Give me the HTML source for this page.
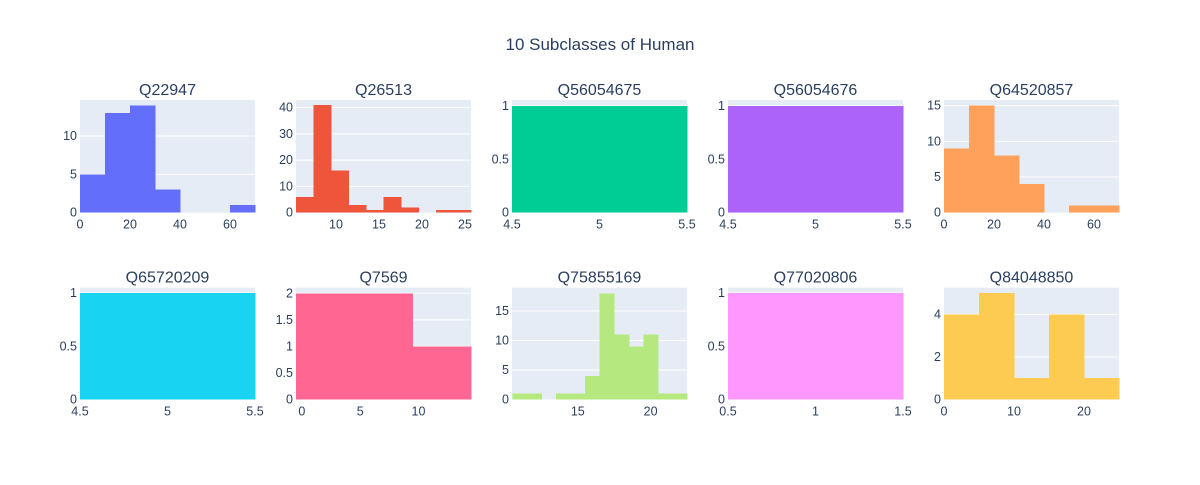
<!DOCTYPE html>
<html><head><meta charset="utf-8">
<style>
body{margin:0;background:#fff;}
svg text{font-family:"Liberation Sans",Arial,sans-serif;fill:#2a3f5f;}
</style></head>
<body>
<svg id="chart" width="1200" height="480" xmlns="http://www.w3.org/2000/svg">
<rect width="1200" height="480" fill="#fff"/>
<text x="600" y="50" text-anchor="middle" font-size="17">10 Subclasses of Human</text>
</svg>
<script>
const titles = ["Q22947","Q26513","Q56054675","Q56054676","Q64520857","Q65720209","Q7569","Q75855169","Q77020806","Q84048850"];
const colors = ["#636efa","#EF553B","#00cc96","#ab63fa","#FFA15A","#19d3f3","#FF6692","#B6E880","#FF97FF","#FECB52"];
const binStarts = [0,5.35,4.5,4.5,0,4.5,-0.5,10.5,0.5,0];
const binSizes = [10,2.035,1,1,10,1,5,1,1,5];
const counts = [
 [5,13,14,3,0,0,1],
 [6,41,16,3,1,6,2,0,1,1],
 [1],[1],
 [9,15,8,4,0,1,1],
 [1],
 [2,2,1],
 [1,1,0,1,1,4,18,11,9,11,1,1],
 [1],
 [4,5,1,4,1]
];
const xRanges = [[0,70],[5.35,25.7],[4.5,5.5],[4.5,5.5],[0,70],[4.5,5.5],[-0.5,14.5],[10.48,22.5],[0.5,1.5],[0,25]];
const yMax = [14.7,42.9,1.055,1.055,15.8,1.05,2.105,18.95,1.05,5.26];
const xTicks = [[0,20,40,60],[10,15,20,25],[4.5,5,5.5],[4.5,5,5.5],[0,20,40,60],[4.5,5,5.5],[0,5,10],[15,20],[0.5,1,1.5],[0,10,20]];
const yTicks = [[0,5,10],[0,10,20,30,40],[0,0.5,1],[0,0.5,1],[0,5,10,15],[0,0.5,1],[0,0.5,1,1.5,2],[0,5,10,15],[0,0.5,1],[0,2,4]];

const NS="http://www.w3.org/2000/svg";
const svg=document.getElementById('chart');
const colX=[80,296,512,728,944], W=175;
const rowY=[[100,212.7],[287.7,399.5]];
function mk(tag,attrs,parent){const e=document.createElementNS(NS,tag);for(const k in attrs)e.setAttribute(k,attrs[k]);parent.appendChild(e);return e;}
titles.forEach((t,i)=>{
  const c=i%5,r=Math.floor(i/5);
  const x0=colX[c],x1=x0+W,yT=rowY[r][0],yB=rowY[r][1];
  const xs=v=>x0+(v-xRanges[i][0])/(xRanges[i][1]-xRanges[i][0])*W;
  const ys=v=>yB-v/yMax[i]*(yB-yT);
  const g=mk('g',{},svg);
  
  
  const bg=mk('rect',{x:x0,y:yT,width:W,height:yB-yT,fill:'#e5ecf6'},g);
  
  
  yTicks[i].forEach(v=>{
    const y=ys(v);
    if(v>0){const gl=mk('line',{x1:x0,x2:x1,y1:y,y2:y,stroke:'#fff','stroke-width':1},g);
      
      }
    const tx=mk('text',{x:x0-3,y:y+4,'text-anchor':'end','font-size':12.5},g);
    tx.textContent=String(v);
    
    
  });
  counts[i].forEach((n,k)=>{
    if(n<=0)return;
    const a=xs(binStarts[i]+k*binSizes[i]),b=xs(binStarts[i]+(k+1)*binSizes[i]);
    const l=Math.max(a,x0),rr=Math.min(b,x1);
    const bar=mk('rect',{x:l,y:ys(n),width:rr-l+0.5,height:yB-ys(n),fill:colors[i],'shape-rendering':'crispEdges'},g);
    
    
  });
  xTicks[i].forEach(v=>{
    const tx=mk('text',{x:xs(v),y:yB+16,'text-anchor':'middle','font-size':12.5},g);
    tx.textContent=String(v);
    
    
  });
  const tt=mk('text',{x:x0+W/2,y:yT-5,'text-anchor':'middle','font-size':16},g);
  tt.textContent=t;
  
  
});
</script>
</body></html>
